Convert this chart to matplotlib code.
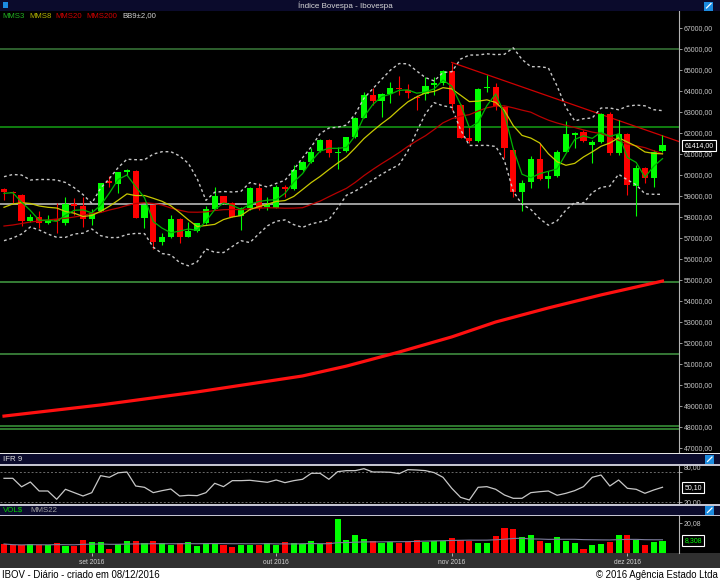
import numpy as np
import pandas as pd
import matplotlib
matplotlib.use('Agg')
import matplotlib.pyplot as plt
from matplotlib.patches import Rectangle
from matplotlib.transforms import blended_transform_factory, offset_copy

plt.rcParams['font.family'] = ['Liberation Sans', 'DejaVu Sans']

W, H = 720, 580

# ---------------- data ----------------
opens = [59333, 59176, 59062, 57810, 57986, 57729, 57890, 57700, 58605, 58524,
         57890, 58300, 59714, 59571, 60157, 60205, 57967, 58557, 56795, 57033,
         57890, 57062, 57333, 57700, 58381, 58986, 58667, 58048, 58414, 59367,
         58476, 58414, 59443, 59333, 60238, 60633, 61143, 61667, 61033, 61143,
         61795, 62728, 63810, 63524, 63857, 64157, 64048, 63738, 63857, 64286,
         64367, 64952, 63333, 61776, 61619, 64157, 64176, 63252, 61190, 59205,
         59681, 60762, 59795, 59967, 61110, 61919, 62062, 61429, 61586, 62890,
         61033, 61952, 59476, 60319, 59843, 61143]
highs = [59367, 59238, 59095, 58143, 58286, 58095, 58652, 58938, 58890, 58938,
         58367, 59633, 59952, 60157, 60286, 60238, 58571, 58571, 57252, 58095,
         57938, 57776, 57729, 58524, 59443, 59000, 58728, 58476, 59443, 59605,
         58952, 59524, 59524, 60476, 60681, 61271, 61714, 61700, 61319, 61824,
         62762, 63938, 64128, 63890, 64443, 64714, 64319, 63810, 64681, 64681,
         65000, 65348, 63367, 62300, 64143, 64762, 64381, 63286, 61286, 59762,
         60905, 61510, 60205, 61190, 62586, 62062, 62143, 61667, 62938, 63014,
         62619, 61986, 60476, 60395, 61190, 61905]
lows = [58810, 58652, 57571, 57762, 57462, 57667, 57224, 57619, 58095, 57509,
        57619, 58252, 59443, 59157, 60000, 57938, 57490, 56462, 56667, 56986,
        56776, 57033, 57300, 57652, 58367, 58619, 57986, 57381, 58333, 58333,
        58333, 58414, 58967, 59286, 60205, 60586, 61110, 60871, 60271, 61110,
        61762, 62700, 63333, 62748, 63414, 63810, 63652, 63095, 63571, 63810,
        64286, 63095, 61748, 61510, 61586, 63952, 63095, 60810, 58967, 58300,
        59367, 59762, 59367, 59919, 61095, 61271, 61586, 60586, 61510, 60952,
        60952, 59048, 58048, 59605, 59414, 61110]
closes = [59190, 59128, 57810, 58000, 57729, 57824, 57824, 58605, 58524, 57890,
          58176, 59605, 59633, 60128, 60238, 57967, 58557, 56824, 57033, 57890,
          57062, 57333, 57700, 58367, 58986, 58652, 58014, 58428, 59367, 58414,
          58619, 59443, 59319, 60238, 60633, 61110, 61667, 61033, 61110, 61795,
          62728, 63810, 63524, 63857, 64157, 64081, 63919, 63690, 64252, 64367,
          64952, 63367, 61776, 61633, 64095, 64190, 63286, 61271, 59205, 59633,
          60762, 59795, 59967, 61110, 61952, 62014, 61633, 61586, 62890, 61033,
          61952, 59524, 60319, 59843, 61081, 61414]
volumes = [6.1, 5.2, 5.2, 6.1, 5.4, 5.2, 6.7, 5.1, 5.1, 8.5,
           7.4, 7.4, 3.0, 6.1, 8.0, 7.8, 6.7, 7.8, 6.7, 5.2,
           6.7, 7.4, 5.1, 6.9, 5.9, 5.2, 4.0, 5.2, 5.6, 5.6,
           6.5, 5.4, 7.4, 6.5, 6.3, 8.3, 5.9, 7.4, 22.2, 8.7,
           11.8, 9.6, 7.8, 6.9, 7.4, 6.9, 7.6, 8.7, 7.6, 8.0,
           8.3, 9.8, 8.7, 7.8, 6.9, 6.9, 11.3, 16.7, 16.1, 10.4,
           12.2, 8.0, 6.9, 10.4, 8.3, 6.5, 2.6, 5.2, 5.9, 7.6,
           11.8, 11.8, 8.7, 5.4, 7.4, 7.8]
ifr9 = [68, 68, 51, 60.6, 42.6, 42.6, 26, 46, 39.3, 32.6,
        39.3, 73.3, 70, 79, 80.6, 52.6, 50, 39.3, 43.3, 46.6,
        32.6, 34, 33.3, 39.3, 58, 51.3, 63.3, 63.3, 64, 62,
        60, 64.6, 59.3, 63.3, 66, 78, 78, 66, 81.3, 83.3,
        83.3, 87.2, 80.6, 80.6, 80, 77.3, 85.3, 84.6, 83.3, 79.3,
        70, 48, 29.9, 24.6, 50, 51.3, 46, 34.6, 28, 28,
        39.3, 41.2, 42.6, 34, 38, 43.3, 51.3, 70, 74.6, 52.6,
        64.6, 48, 46, 38, 44.6, 50.1]

# long average (needs history not shown): read at a few candles
mms200_idx = [0, 11, 22, 34, 39, 45, 51, 56, 62, 68, 75]
mms200_val = [48520, 49050, 49670, 50430, 50900, 51570, 52290, 53000, 53670, 54290, 54950]
# first values of the short averages/bands (history before first candle)
mms3_head = [59128, 59157]
mms8_head = [58462, 58619, 58681, 58643, 58524, 58462, 58428]
mms20_head = [57571, 57619, 57690, 57762, 57810, 57857, 57905, 57938, 58000, 58071,
              58176, 58214, 58333, 58428, 58548, 58643, 58681, 58643, 58571]
bb_upper_head = [59919, 60024, 60000, 59762, 59786, 59786, 59762, 59643]
bb_lower_head = [56871, 57000, 57190, 57524, 57381, 57190, 57033, 57033]

level_lines = [66000, 62300, 58600, 54900, 51480, 48070, 47920]
level_colors = ['#3a7a3a', '#14a014', '#c8c8c8', '#44a044', '#449844', '#3c9a3c', '#3c9a3c']
trend_idx = [51.0, 76.9]
trend_val = [65360, 61590]

price_ticks = list(range(47000, 68000, 1000))
month_idx = [10, 31, 51, 71]
month_labels = ['set 2016', 'out 2016', 'nov 2016', 'dez 2016']
ifr_ticks = [80, 20]
last_price = 61414.00
ifr_last = 50.10
vol_ma_last = 8.308
vol_tick = 20.08

# ---------------- indicators ----------------
c = pd.Series(closes, dtype=float)
mms3 = c.rolling(3).mean().values
mms3[:2] = mms3_head
mms8 = c.rolling(8).mean().values
mms8[:7] = mms8_head
mms20 = c.rolling(20).mean().values
mms20[:19] = mms20_head
mid9 = c.rolling(9).mean()
sd9 = c.rolling(9).std(ddof=0)
bb_up = (mid9 + 2 * sd9).values
bb_lo = (mid9 - 2 * sd9).values
bb_up[:8] = bb_upper_head
bb_lo[:8] = bb_lower_head
vol_ma = pd.Series(volumes).rolling(22, min_periods=1).mean().values

O = np.array(opens, float); C = np.array(closes, float)
Hh = np.array(highs, float); L = np.array(lows, float)
x = np.arange(len(closes))
up = C >= O
cols = np.where(up, '#00ff00', '#ff0000')

# ---------------- figure ----------------
fig = plt.figure(figsize=(W / 100, H / 100), dpi=100, facecolor='black')


def fb(x0, y0, x1, y1):
    return [x0 / W, 1 - y1 / H, (x1 - x0) / W, (y1 - y0) / H]


def rect(x0, y0, x1, y1, color, z=1):
    fig.add_artist(Rectangle((x0 / W, 1 - y1 / H), (x1 - x0) / W, (y1 - y0) / H,
                             transform=fig.transFigure, facecolor=color,
                             edgecolor='none', zorder=z))


def txt(xp, yp, s, **kw):
    fig.text(xp / W, 1 - yp / H, s, **kw)


def icon(x0, y0, size=9):
    rect(x0, y0, x0 + size, y0 + size, '#1c8ce0', z=3)
    fig.add_artist(plt.Line2D([(x0 + 2.5) / W, (x0 + size - 2) / W],
                              [1 - (y0 + size - 2.5) / H, 1 - (y0 + 2) / H],
                              transform=fig.transFigure, color='white', lw=0.9, zorder=4))


XL = (-0.456, 76.88)
navy = '#0b0b2c'
sep = '#c4c4d0'
lab = '#c8c8c8'

# title bar
rect(0, 0, 720, 11, navy)
txt(345, 5.8, 'Índice Bovespa - Ibovespa', color='#d8d8d8', fontsize=5.8,
    ha='center', va='center', zorder=5)
rect(2.5, 1.5, 7.5, 8, '#1c8ce0', z=3)
icon(704, 1.5)

# ---------------- main panel ----------------
ax = fig.add_axes(fb(0, 11, 679, 452.7))
ax.set_facecolor('black')
ax.set_xlim(*XL)
ax.set_ylim(46776, 67810)
for v, col in zip(level_lines, level_colors):
    ax.axhline(v, color=col, lw=1.1, zorder=1)
ax.plot(mms200_idx, mms200_val, color='#ff1010', lw=2.3, zorder=2)
ax.plot(trend_idx, trend_val, color='#d00000', lw=0.9, zorder=2)

body = np.maximum(np.abs(C - O), 45)
bottom = np.minimum(O, C)
ax.vlines(x, L, Hh, colors=cols, lw=0.8, zorder=3)
ax.bar(x, body, bottom=bottom, width=0.7, color=cols, edgecolor='none', zorder=3)

dash = (0, (2, 2))
ax.plot(x, bb_up, color='#c8c8c8', lw=1.0, ls=dash, zorder=4)
ax.plot(x, bb_lo, color='#c8c8c8', lw=1.0, ls=dash, zorder=4)
ax.plot(x, mms20, color='#b80000', lw=0.9, zorder=4)
ax.plot(x, mms8, color='#c8c800', lw=0.9, zorder=4)
ax.plot(x, mms3, color='#00b400', lw=0.9, zorder=5)

ax.yaxis.tick_right()
ax.set_yticks(price_ticks)
ax.set_yticklabels([f'{v:.2f}'.replace('.', ',') for v in price_ticks])
ax.tick_params(axis='y', colors='#b4b4b4', labelcolor=lab, labelsize=5,
               length=2.5, width=0.6, pad=1)
ax.set_xticks([])
for s in ['top', 'left', 'bottom']:
    ax.spines[s].set_visible(False)
ax.spines['right'].set_color('#b4b4b4')
ax.spines['right'].set_linewidth(0.8)

tr = blended_transform_factory(ax.transAxes, ax.transData)
ax.text(1.008, last_price, f'{last_price:.2f}'.replace('.', ','), transform=tr,
        ha='left', va='center', color='white', fontsize=5, clip_on=False,
        bbox=dict(boxstyle='square,pad=0.3', fc='black', ec='white', lw=0.8))

# legend text
legend_items = [('MMS3', '#22b422', 2.7), ('MMS8', '#b4b400', 29.3),
                ('MMS20', '#d20000', 55.7), ('MMS200', '#d20000', 86.7),
                ('BB9±2,00', '#d0d0d0', 122.7)]
for s, col, xp in legend_items:
    txt(xp, 16, s, color=col, fontsize=5.6, ha='left', va='center', zorder=6)

# ---------------- IFR panel ----------------
rect(0, 452.7, 720, 454.3, '#e6e6e6')
rect(0, 454.3, 720, 464.3, navy)
rect(0, 464.3, 720, 465.7, sep)
txt(3, 459.5, 'IFR 9', color='#e0e0e0', fontsize=5.7, ha='left', va='center', zorder=5)
icon(705, 455)

ax2 = fig.add_axes(fb(0, 465.7, 679, 504.3))
ax2.set_facecolor('black')
ax2.set_xlim(*XL)
ax2.set_ylim(16, 93.2)
for v in ifr_ticks:
    ax2.axhline(v, color='#6a6a6a', lw=0.7, ls=dash)
ax2.plot(x, ifr9, color='#c8c8c8', lw=0.9)
ax2.yaxis.tick_right()
ax2.set_yticks(ifr_ticks)
ax2.set_yticklabels([])
ax2.tick_params(axis='y', colors='#b4b4b4', length=2.5, width=0.6)
tr2 = blended_transform_factory(ax2.transAxes, ax2.transData)
# labels: the upper one sits a little above its line in the original
for v, dy in zip(ifr_ticks, [3.6, 0]):
    ax2.text(1.0065, v, f'{v:.2f}'.replace('.', ','),
             transform=offset_copy(tr2, fig=fig, y=dy, units='points'),
             ha='left', va='center', color=lab, fontsize=5, clip_on=False)
ax2.set_xticks([])
for s in ['top', 'left', 'bottom']:
    ax2.spines[s].set_visible(False)
ax2.spines['right'].set_color('#b4b4b4')
ax2.text(1.008, ifr_last, f'{ifr_last:.2f}'.replace('.', ','), transform=tr2,
         ha='left', va='center', color='white', fontsize=5, clip_on=False,
         bbox=dict(boxstyle='square,pad=0.3', fc='black', ec='white', lw=0.8))

# ---------------- VOL panel ----------------
rect(0, 504.3, 720, 505.7, sep)
rect(0, 505.7, 720, 515, navy)
rect(0, 515, 720, 516.3, sep)
txt(3, 510.5, 'VOL$', color='#00d200', fontsize=5.7, ha='left', va='center', zorder=5)
txt(30.5, 510.5, 'MMS22', color='#a0a0a0', fontsize=5.7, ha='left', va='center', zorder=5)
icon(705, 506)

ax3 = fig.add_axes(fb(0, 516.3, 679, 553.3))
ax3.set_facecolor('black')
ax3.set_xlim(*XL)
ax3.set_ylim(0, 24.2)
ax3.bar(x, volumes, width=0.7, color=cols, edgecolor='none')
ax3.plot(x, vol_ma, color='#7c7c9c', lw=0.8)
ax3.yaxis.tick_right()
ax3.set_yticks([vol_tick])
ax3.set_yticklabels([f'{vol_tick:.2f}'.replace('.', ',')])
ax3.tick_params(axis='y', colors='#b4b4b4', labelcolor=lab, labelsize=5,
                length=2.5, width=0.6, pad=1)
ax3.set_xticks(month_idx)
ax3.set_xticklabels(month_labels)
ax3.tick_params(axis='x', colors='#c8c8c8', labelcolor='#d0d0d0', labelsize=4.8,
                length=2, width=0.6, pad=2)
for s in ['top', 'left', 'bottom']:
    ax3.spines[s].set_visible(False)
ax3.spines['right'].set_color('#b4b4b4')
tr3 = blended_transform_factory(ax3.transAxes, ax3.transData)
ax3.text(1.008, vol_ma_last, f'{vol_ma_last:.3f}'.replace('.', ','), transform=tr3,
         ha='left', va='center', color='#00ff00', fontsize=5, clip_on=False,
         bbox=dict(boxstyle='square,pad=0.3', fc='black', ec='white', lw=0.8))

# label band + footer
rect(0, 553.3, 720, 568.3, '#303030', z=-1)
rect(0, 568.3, 720, 580, 'white', z=1)
txt(2, 574.6, 'IBOV - Diário - criado em 08/12/2016', color='black', fontsize=6.9,
    ha='left', va='center', zorder=5)
txt(718, 574.6, '© 2016 Agência Estado Ltda', color='black', fontsize=6.9,
    ha='right', va='center', zorder=5)

fig.savefig('out.png', dpi=100, facecolor='black')
